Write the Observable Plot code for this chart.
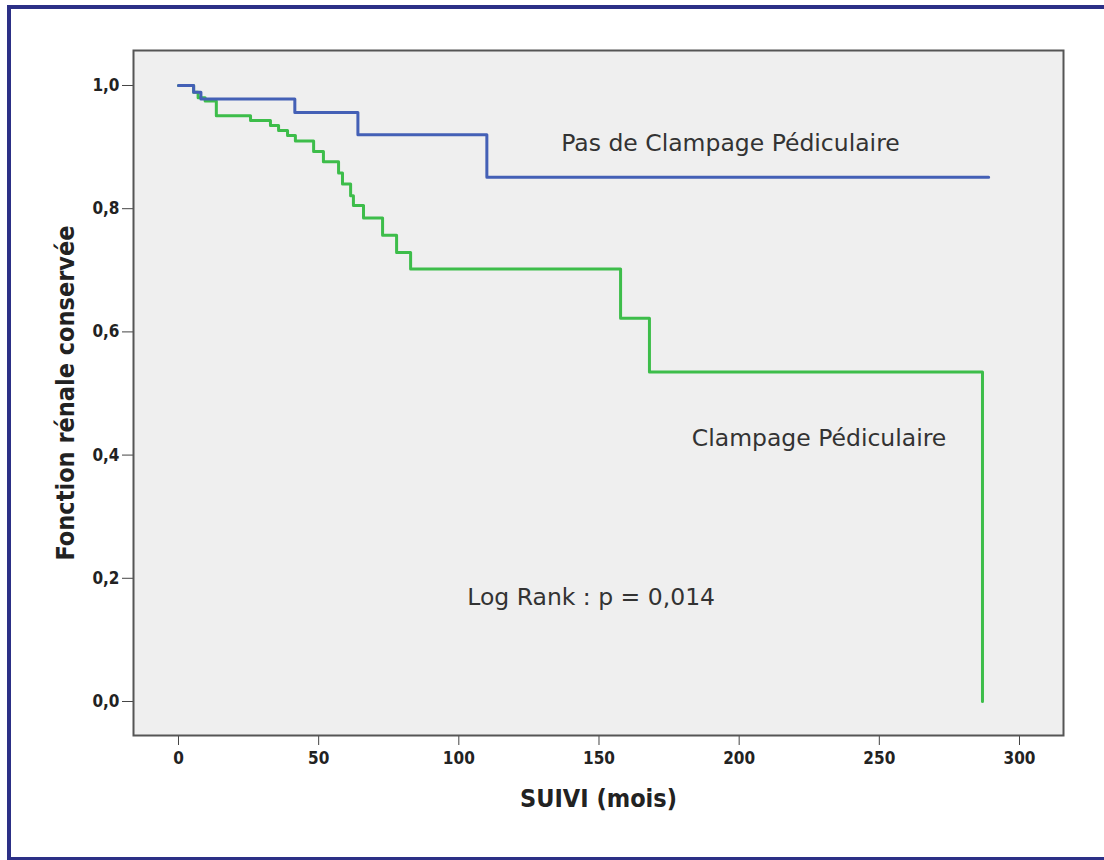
<!DOCTYPE html>
<html>
<head>
<meta charset="utf-8">
<script src="https://cdn.jsdelivr.net/npm/d3@7"></script>
<script src="https://cdn.jsdelivr.net/npm/@observablehq/plot@0.6"></script>
<style>
  html, body { margin: 0; padding: 0; background: #fff; }
  #wrap { position: relative; width: 1104px; height: 860px; overflow: hidden; }
  #border { position: absolute; left: 7px; top: 5px; width: 1110px; height: 848px; border: 4px solid #2c3086; box-sizing: content-box; }
  #chart { position: absolute; left: 0; top: 0; }
  .cond { font-family: "DejaVu Sans Condensed", "DejaVu Sans"; font-stretch: condensed; font-weight: bold; }
</style>
</head>
<body>
<div id="wrap"><div id="border"></div><div id="chart"></div></div>
<script>
// Pas de Clampage Pédiculaire (blue) — step times (mois) and survival
const blueTimes = [0, 5.4, 8, 41.5, 64, 110, 289];
const blueSurv  = [1.0, 0.989, 0.978, 0.956, 0.920, 0.851, 0.851];

// Clampage Pédiculaire (green)
const greenTimes = [0, 5.4, 7, 9.5, 13.5, 25.7, 32.8, 35.7, 38.9, 41.7, 48.2, 51.7, 57.1, 58.5, 61.4, 62.4, 66, 72.8, 77.8, 82.8, 157.7, 168, 286.8, 286.8];
const greenSurv  = [1.0, 0.989, 0.980, 0.975, 0.951, 0.943, 0.935, 0.927, 0.919, 0.910, 0.893, 0.876, 0.858, 0.840, 0.821, 0.805, 0.785, 0.757, 0.729, 0.702, 0.622, 0.535, 0.535, 0.0];

const yTicks = [0, 0.2, 0.4, 0.6, 0.8, 1.0];
const xTicks = [0, 50, 100, 150, 200, 250, 300];
const labels = ["Pas de Clampage Pédiculaire", "Clampage Pédiculaire", "Log Rank : p = 0,014"];

const blue = blueTimes.map((t, i) => ({t, s: blueSurv[i]}));
const green = greenTimes.map((t, i) => ({t, s: greenSurv[i]}));

const fmt = d => d.toFixed(1).replace(".", ",");

const chart = Plot.plot({
  width: 1104,
  height: 860,
  marginLeft: 133,
  marginRight: 41,
  marginTop: 50,
  marginBottom: 125,
  style: { background: "transparent", fontFamily: "DejaVu Sans", fontSize: "17px" },
  x: { domain: [-16.05, 315.7] },
  y: { domain: [-0.0552, 1.0568] },
  marks: [
    Plot.frame({ fill: "#efefef" }),
    Plot.axisY({ ticks: yTicks, tickFormat: fmt, tickSize: 11, tickPadding: 3, label: null, fill: "#222", stroke: "#444", className: "cond" }),
    Plot.axisX({ ticks: xTicks, tickSize: 10, tickPadding: 6, label: null, fill: "#222", stroke: "#444", className: "cond" }),
    Plot.line(green, { x: "t", y: "s", curve: "step-after", stroke: "#3dbd4a", strokeWidth: 3 }),
    Plot.line(blue, { x: "t", y: "s", curve: "step-after", stroke: "#4460b6", strokeWidth: 3 }),
    Plot.text([labels[0]], { x: () => 196.9, y: () => 0.906, fontSize: 23.5, fill: "#333", textAnchor: "middle", lineAnchor: "middle" }),
    Plot.text([labels[1]], { x: () => 228.5, y: () => 0.427, fontSize: 23.5, fill: "#333", textAnchor: "middle", lineAnchor: "middle" }),
    Plot.text([labels[2]], { x: () => 147.2, y: () => 0.169, fontSize: 23.5, fill: "#333", textAnchor: "middle", lineAnchor: "middle" }),
    Plot.text(["Fonction rénale conservée"], { frameAnchor: "left", dx: -68, rotate: -90, fontSize: 25, fill: "#222", textAnchor: "middle", lineAnchor: "middle", className: "cond" }),
    Plot.text(["SUIVI (mois)"], { frameAnchor: "bottom", dy: 63, fontSize: 25, fill: "#222", textAnchor: "middle", lineAnchor: "middle", className: "cond" }),
    Plot.frame({ stroke: "#555", strokeWidth: 2 })
  ]
});
document.getElementById("chart").appendChild(chart);
</script>
</body>
</html>
